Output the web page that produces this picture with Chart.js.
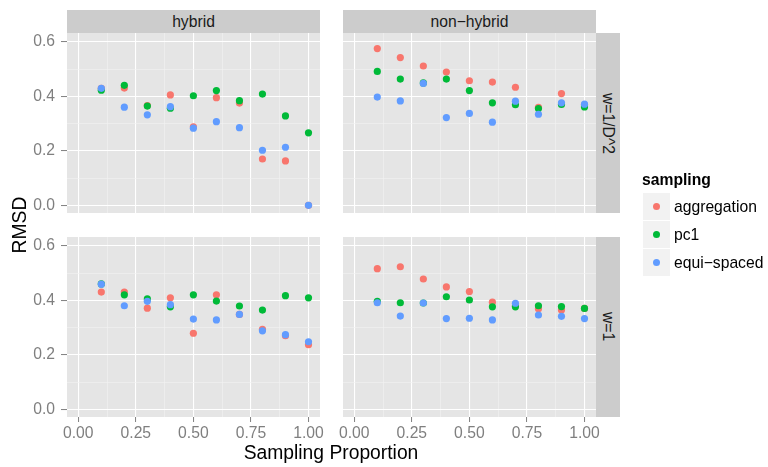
<!DOCTYPE html>
<html>
<head>
<meta charset="utf-8">
<script src="https://cdn.jsdelivr.net/npm/chart.js@4/dist/chart.umd.min.js"></script>
<style>
  body { margin: 0; background: #fff; font-family: "Liberation Sans", Arial, sans-serif; }
  #wrap { position: relative; width: 768px; height: 467px; overflow: hidden; }
  #wrap canvas { position: absolute; left: 0; top: 0; }
  .strip { position: absolute; background: #cccccc; color: #1a1a1a; font-size: 15.7px;
           display: flex; align-items: center; justify-content: center; white-space: nowrap; }
  .vert { writing-mode: vertical-rl; }
  .title { position: absolute; color: #000; font-size: 19.3px; white-space: nowrap; line-height: 22px; }
  .lg { position: absolute; color: #000; font-size: 15.7px; white-space: nowrap; line-height: 18px; }
  .key { position: absolute; width: 27px; height: 26.5px; background: #f2f2f2; }
  .dot { position: absolute; left: 10px; top: 9.75px; width: 7px; height: 7px; border-radius: 50%; }
</style>
</head>
<body>
<div id="wrap">
  <canvas id="c1" width="768" height="467"></canvas>
  <canvas id="c2" width="768" height="467"></canvas>
  <canvas id="c3" width="768" height="467"></canvas>
  <canvas id="c4" width="768" height="467"></canvas>

  <div class="strip" style="left:67px;top:10px;width:253px;height:23px;">hybrid</div>
  <div class="strip" style="left:343px;top:10px;width:253px;height:23px;">non−hybrid</div>
  <div class="strip vert" style="left:596px;top:33px;width:24px;height:180px;">w=1/D^2</div>
  <div class="strip vert" style="left:596px;top:237px;width:24px;height:180px;">w=1</div>

  <div class="title" style="left:-20px;top:214px;width:80px;text-align:center;transform:rotate(-90deg);">RMSD</div>
  <div class="title" style="left:211px;top:442px;width:240px;text-align:center;">Sampling Proportion</div>

  <div id="legend"></div>
</div>

<script>
const proportions = [0.1, 0.2, 0.3, 0.4, 0.5, 0.6, 0.7, 0.8, 0.9, 1.0];
const seriesNames = ["aggregation", "pc1", "equi−spaced"];
const seriesColors = ["#F8766D", "#00BA38", "#619CFF"];

const xMajor = [0, 0.25, 0.5, 0.75, 1];
const xMinor = [0.125, 0.375, 0.625, 0.875];
const yMajor = [0, 0.2, 0.4, 0.6];
const yMinor = [0.1, 0.3, 0.5];

// hybrid, w=1/D^2
const hybridInvAgg  = [0.429, 0.430, 0.366, 0.405, 0.288, 0.395, 0.375, 0.170, 0.163, 0.000];
const hybridInvPc1  = [0.422, 0.440, 0.364, 0.356, 0.402, 0.421, 0.384, 0.408, 0.328, 0.266];
const hybridInvEqui = [0.429, 0.360, 0.332, 0.362, 0.283, 0.307, 0.285, 0.202, 0.213, 0.000];
// non-hybrid, w=1/D^2
const nonHybridInvAgg  = [0.575, 0.542, 0.511, 0.489, 0.457, 0.452, 0.433, 0.359, 0.410, 0.368];
const nonHybridInvPc1  = [0.491, 0.463, 0.449, 0.463, 0.421, 0.376, 0.369, 0.355, 0.370, 0.361];
const nonHybridInvEqui = [0.397, 0.383, 0.447, 0.322, 0.337, 0.305, 0.382, 0.334, 0.376, 0.371];
// hybrid, w=1
const hybridOneAgg  = [0.430, 0.430, 0.371, 0.409, 0.279, 0.420, 0.348, 0.293, 0.270, 0.237];
const hybridOnePc1  = [0.460, 0.420, 0.405, 0.376, 0.420, 0.397, 0.379, 0.364, 0.417, 0.409];
const hybridOneEqui = [0.459, 0.380, 0.396, 0.384, 0.331, 0.328, 0.348, 0.288, 0.274, 0.248];
// non-hybrid, w=1
const nonHybridOneAgg  = [0.516, 0.523, 0.478, 0.449, 0.432, 0.393, 0.380, 0.369, 0.364, 0.370];
const nonHybridOnePc1  = [0.396, 0.391, 0.390, 0.413, 0.401, 0.376, 0.376, 0.380, 0.377, 0.370];
const nonHybridOneEqui = [0.391, 0.342, 0.390, 0.333, 0.334, 0.328, 0.389, 0.346, 0.341, 0.333];

const isMajor = (list, v) => list.some(m => Math.abs(m - v) < 1e-9);
const tickFont = { family: "Liberation Sans", size: 15.7 };

const panelBg = {
  id: "panelBg",
  beforeDraw(chart) {
    const a = chart.chartArea;
    const c = chart.ctx;
    c.save();
    c.fillStyle = "#e5e5e5";
    c.fillRect(a.left, a.top, a.right - a.left, a.bottom - a.top);
    c.restore();
  }
};

function makePanel(id, series, box) {
  // box: left, top, right, bottom of the plotting area; showX / showY for the axes
  const yW = box.showY ? 37 : 0;
  const xH = box.showX ? 26 : 0;
  const datasets = series.map((vals, i) => ({
    label: seriesNames[i],
    data: proportions.map((p, k) => ({ x: p, y: vals[k] })),
    backgroundColor: seriesColors[i],
    borderWidth: 0,
    pointRadius: 3.6,
    order: 2 - i
  }));

  new Chart(document.getElementById(id), {
    type: "scatter",
    data: { datasets },
    plugins: [panelBg],
    options: {
      responsive: false,
      animation: false,
      events: [],
      layout: {
        padding: { left: box.left - yW, top: box.top, right: 768 - box.right, bottom: 467 - box.bottom - xH }
      },
      plugins: { legend: { display: false }, tooltip: { enabled: false } },
      scales: {
        x: {
          type: "linear",
          min: -0.049, max: 1.05,
          afterBuildTicks: s => { s.ticks = xMajor.concat(xMinor).map(v => ({ value: v })); },
          afterFit: s => { s.height = xH; },
          border: { display: false },
          grid: {
            drawTicks: box.showX,
            tickLength: 5,
            color: c => isMajor(xMajor, c.tick.value) ? "#ffffff" : "#f2f2f2",
            lineWidth: c => isMajor(xMajor, c.tick.value) ? 1.1 : 0.6,
            tickColor: c => isMajor(xMajor, c.tick.value) ? "#7f7f7f" : "rgba(0,0,0,0)",
            tickWidth: 1
          },
          ticks: {
            display: box.showX,
            autoSkip: false,
            maxRotation: 0,
            padding: 2,
            color: "#7f7f7f",
            font: tickFont,
            callback: v => isMajor(xMajor, v) ? v.toFixed(2) : ""
          }
        },
        y: {
          type: "linear",
          min: -0.028, max: 0.632,
          afterBuildTicks: s => { s.ticks = yMajor.concat(yMinor).map(v => ({ value: v })); },
          afterFit: s => { s.width = yW; },
          border: { display: false },
          grid: {
            drawTicks: box.showY,
            tickLength: 6,
            color: c => isMajor(yMajor, c.tick.value) ? "#ffffff" : "#f2f2f2",
            lineWidth: c => isMajor(yMajor, c.tick.value) ? 1.1 : 0.6,
            tickColor: c => isMajor(yMajor, c.tick.value) ? "#7f7f7f" : "rgba(0,0,0,0)",
            tickWidth: 1
          },
          ticks: {
            display: box.showY,
            autoSkip: false,
            padding: 6,
            color: "#7f7f7f",
            font: tickFont,
            callback: v => isMajor(yMajor, v) ? v.toFixed(1) : ""
          }
        }
      }
    }
  });
}

makePanel("c1", [hybridInvAgg, hybridInvPc1, hybridInvEqui],
  { left: 67, top: 33, right: 320, bottom: 213, showX: false, showY: true });
makePanel("c2", [nonHybridInvAgg, nonHybridInvPc1, nonHybridInvEqui],
  { left: 343, top: 33, right: 596, bottom: 213, showX: false, showY: false });
makePanel("c3", [hybridOneAgg, hybridOnePc1, hybridOneEqui],
  { left: 67, top: 237, right: 320, bottom: 417, showX: true, showY: true });
makePanel("c4", [nonHybridOneAgg, nonHybridOnePc1, nonHybridOneEqui],
  { left: 343, top: 237, right: 596, bottom: 417, showX: true, showY: false });

// legend
const legend = document.getElementById("legend");
let html = '<div class="lg" style="left:642px;top:171px;font-weight:bold;">sampling</div>';
seriesNames.forEach((n, i) => {
  const top = 193 + i * 28;
  html += '<div class="key" style="left:643px;top:' + top + 'px;"><div class="dot" style="background:' +
    seriesColors[i] + '"></div></div>';
  html += '<div class="lg" style="left:674px;top:' + (top + 4.5) + 'px;">' + n + '</div>';
});
legend.innerHTML = html;
</script>
</body>
</html>
